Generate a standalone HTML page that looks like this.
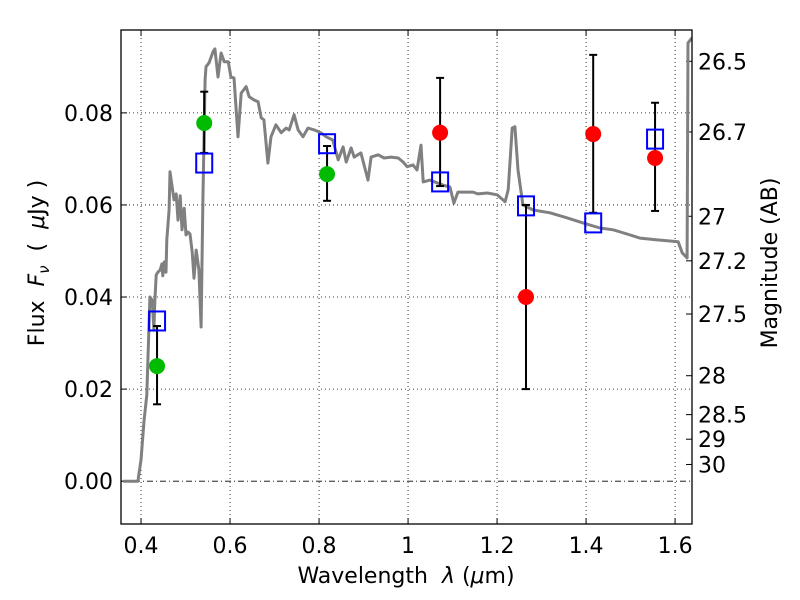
<!DOCTYPE html>
<html><head><meta charset="utf-8"><style>
body{margin:0;background:#fff}
svg{display:block;font-family:"DejaVu Sans","Liberation Sans",sans-serif}
text{white-space:pre}
</style></head><body>
<svg id="chart" width="800" height="600"></svg>
<script>
const modelWave=[0.36,0.393,0.400,0.407,0.413,0.420,0.425,0.429,0.431,0.434,0.438,0.443,0.447,0.449,0.452,0.456,0.458,0.463,0.465,0.474,0.479,0.483,0.488,0.492,0.497,0.501,0.506,0.510,0.515,0.519,0.524,0.530,0.535,0.539,0.544,0.546,0.553,0.562,0.566,0.573,0.580,0.587,0.596,0.602,0.609,0.618,0.625,0.636,0.643,0.654,0.663,0.670,0.676,0.685,0.692,0.703,0.715,0.726,0.733,0.744,0.753,0.764,0.775,0.789,0.804,0.816,0.831,0.843,0.854,0.861,0.872,0.879,0.894,0.910,0.917,0.933,0.946,0.962,0.978,0.989,0.998,1.011,1.020,1.029,1.034,1.049,1.065,1.079,1.094,1.103,1.112,1.133,1.146,1.157,1.178,1.200,1.218,1.225,1.234,1.240,1.247,1.258,1.281,1.319,1.357,1.393,1.431,1.461,1.492,1.521,1.560,1.607,1.616,1.627,1.629,1.638];
const modelFlux=[0,0,0.0046,0.0133,0.0187,0.0400,0.0393,0.0328,0.0389,0.0448,0.0454,0.0459,0.0472,0.0446,0.0476,0.0454,0.0524,0.0589,0.0672,0.0611,0.0624,0.0567,0.0620,0.0546,0.0593,0.0535,0.0541,0.0537,0.0498,0.0441,0.0502,0.0459,0.0335,0.0611,0.0872,0.0900,0.0909,0.0933,0.0939,0.0878,0.0930,0.0911,0.0911,0.0878,0.0876,0.0748,0.0843,0.0857,0.0835,0.0828,0.0824,0.0789,0.0785,0.0691,0.0748,0.0774,0.0757,0.0767,0.0763,0.0796,0.0763,0.0748,0.0767,0.0763,0.0757,0.0748,0.0741,0.0698,0.0726,0.0693,0.0724,0.0704,0.0713,0.0654,0.0704,0.0709,0.0702,0.0704,0.0702,0.0693,0.0683,0.0687,0.0676,0.0730,0.0650,0.0654,0.0648,0.0643,0.0639,0.0604,0.0628,0.0628,0.0628,0.0624,0.0626,0.0622,0.0607,0.0633,0.0767,0.0770,0.0676,0.0600,0.0589,0.0583,0.0572,0.0561,0.0550,0.0546,0.0537,0.0528,0.0524,0.0520,0.0496,0.0485,0.0952,0.0963];
const obsWave=[0.436,0.542,0.818,1.072,1.265,1.416,1.555];
const obsFlux=[0.025,0.0778,0.0667,0.0757,0.040,0.0754,0.0702];
const errLow=[0.0167,0.0713,0.0609,0.0641,0.020,0.0583,0.0587];
const errHigh=[0.0337,0.0846,0.0728,0.0876,0.060,0.0926,0.0822];
const obsColor=["#00bb00","#00bb00","#00bb00","#ff0000","#ff0000","#ff0000","#ff0000"];
const modelPhot=[0.0348,0.0691,0.0733,0.0650,0.0598,0.0561,0.0743];
const xTicks=[0.4,0.6,0.8,1.0,1.2,1.4,1.6];
const xTickLabels=["0.4","0.6","0.8","1","1.2","1.4","1.6"];
const yTicks=[0,0.02,0.04,0.06,0.08];
const yTickLabels=["0.00","0.02","0.04","0.06","0.08"];
const magTicks=[26.5,26.7,27,27.2,27.5,28,28.5,29,30];
const magTickLabels=["26.5","26.7","27","27.2","27.5","28","28.5","29","30"];

const L=121,R=692,T=30,B=524;
const X0=0.355,X1=1.638,Y0=-0.0093,Y1=0.098;
const sx=v=>L+(v-X0)/(X1-X0)*(R-L);
const sy=v=>B-(v-Y0)/(Y1-Y0)*(B-T);
const NS="http://www.w3.org/2000/svg";
const svg=document.getElementById('chart');
function mk(tag,attrs,parent){const e=document.createElementNS(NS,tag);for(const k in attrs)e.setAttribute(k,attrs[k]);(parent||svg).appendChild(e);return e;}

xTicks.forEach((t,i)=>{
  const g=mk('line',{x1:sx(t),x2:sx(t),y1:T,y2:B,stroke:'#000','stroke-width':0.8,'stroke-dasharray':'1,3'});
  
  
  const tk=mk('line',{x1:sx(t),x2:sx(t),y1:B,y2:B-6,stroke:'#000'});
  
  
  mk('line',{x1:sx(t),x2:sx(t),y1:T,y2:T+6,stroke:'#000'});
  const tx=mk('text',{x:sx(t),y:B+29,'font-size':22,'text-anchor':'middle'});
  tx.textContent=xTickLabels[i];
  
  
});
yTicks.forEach((t,i)=>{
  const g=mk('line',{x1:L,x2:R,y1:sy(t),y2:sy(t),stroke:'#000','stroke-width':0.8,'stroke-dasharray':t===0?'6,3,1,3':'1,3'});
  
  
  mk('line',{x1:L,x2:L+6,y1:sy(t),y2:sy(t),stroke:'#000'});
  const tx=mk('text',{x:L-8,y:sy(t)+8,'font-size':22,'text-anchor':'end'});
  tx.textContent=yTickLabels[i];
  
  
});
magTicks.forEach((m,i)=>{
  const f=Math.pow(10,(23.9-m)/2.5);
  const y=sy(f);
  mk('line',{x1:R,x2:R-6,y1:y,y2:y,stroke:'#000'});
  const tx=mk('text',{x:R+6,y:y+8,'font-size':22});
  tx.textContent=magTickLabels[i];
  
  
});

const clip=mk('clipPath',{id:'c'});mk('rect',{x:L,y:T,width:R-L,height:B-T},clip);
const pts=modelWave.map((w,i)=>sx(w).toFixed(1)+','+sy(modelFlux[i]).toFixed(1)).join(' ');
const line=mk('polyline',{points:pts,fill:'none',stroke:'#808080','stroke-width':3,'clip-path':'url(#c)','stroke-linejoin':'round'});



obsWave.forEach((w,i)=>{
  const x=sx(w);
  const eb=mk('g',{stroke:'#000','stroke-width':2});
  
  
  mk('line',{x1:x,x2:x,y1:sy(errLow[i]),y2:sy(errHigh[i])},eb);
  mk('line',{x1:x-4,x2:x+4,y1:sy(errLow[i]),y2:sy(errLow[i])},eb);
  mk('line',{x1:x-4,x2:x+4,y1:sy(errHigh[i]),y2:sy(errHigh[i])},eb);
});
obsWave.forEach((w,i)=>{
  const c=mk('circle',{cx:sx(w),cy:sy(obsFlux[i]),r:8,fill:obsColor[i]});
  
  
});
obsWave.forEach((w,i)=>{
  const s=mk('rect',{x:sx(w)-8,y:sy(modelPhot[i])-9.5,width:16,height:19,fill:'none',stroke:'#0000ff','stroke-width':2});
  
  
});

const fr=mk('rect',{x:L,y:T,width:R-L,height:B-T,fill:'none',stroke:'#000','stroke-width':1.3});


</script>
<svg style="position:absolute;left:0;top:0" width="800" height="600">
<text x="406" y="583" font-size="22" text-anchor="middle" font-family="DejaVu Sans, Liberation Sans, sans-serif">Wavelength  <tspan font-style="italic">λ</tspan> (<tspan font-style="italic">μ</tspan>m)</text>
<text transform="translate(44,263) rotate(-90)" font-size="22" text-anchor="middle" font-family="DejaVu Sans, Liberation Sans, sans-serif">Flux  <tspan font-style="italic">F</tspan><tspan font-style="italic" font-size="15" dy="5">ν</tspan><tspan dy="-5">  (  </tspan><tspan font-style="italic">μ</tspan>Jy )</text>
<text transform="translate(777,263) rotate(-90)" font-size="22" text-anchor="middle" font-family="DejaVu Sans, Liberation Sans, sans-serif">Magnitude (AB)</text>
</svg>
</body></html>
